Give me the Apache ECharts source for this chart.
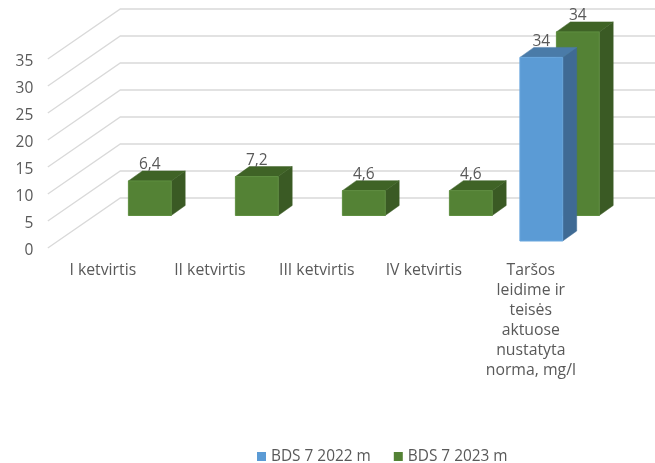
<!DOCTYPE html>
<html>
<head>
<meta charset="utf-8">
<style>html,body{margin:0;padding:0;background:#fff}#c{width:655px;height:463px}</style>
<script src="https://cdn.jsdelivr.net/npm/echarts@6/dist/echarts.min.js"></script>
</head>
<body>
<div id="c"></div>
<script>
const categories = ['I ketvirtis','II ketvirtis','III ketvirtis','IV ketvirtis','Taršos\nleidime ir\nteisės\naktuose\nnustatyta\nnorma, mg/l'];
const values2022 = [null,null,null,null,34];
const values2023 = [6.4,7.2,4.6,4.6,34];
const yTicks = [0,5,10,15,20,25,30,35];
const name2022 = 'BDS 7 2022 m';
const name2023 = 'BDS 7 2023 m';

const FONT = '"Open Sans", sans-serif';
const TXT = '#595959';
const WALL = {dx:72.5, dy:-50};
const BOX = {dx:14, dy:-10, ratio:0.4};

function barRender(off, front, top, side, edge){
  return function(params, api){
    const v = api.value(1);
    if (v == null || isNaN(v)) return null;
    const i = api.value(0);
    const b = api.coord([i,0]), t = api.coord([i,v]);
    const w = api.size([1,0])[0]*BOX.ratio;
    const x0 = b[0]-w/2+off.dx, x1 = x0+w;
    const yb = b[1]+off.dy, yt = t[1]+off.dy;
    const dx = BOX.dx, dy = BOX.dy;
    const poly = (pts,fill)=>({type:'polygon',shape:{points:pts},style:{fill:fill,stroke:fill,lineWidth:0.5},silent:true});
    return {type:'group',children:[
      poly([[x1,yb],[x1+dx,yb+dy],[x1+dx,yt+dy],[x1,yt]],side),
      poly([[x0,yt],[x1,yt],[x1+dx,yt+dy],[x0+dx,yt+dy]],top),
      {type:'rect',shape:{x:x0,y:yt,width:w,height:yb-yt},style:{fill:front,stroke:edge,lineWidth:1}},
      {type:'text',x:(x0+x1)/2,y:yt-16,style:{text:String(v).replace('.',','),fill:TXT,font:'15.5px '+FONT,align:'center',verticalAlign:'middle'}}
    ]};
  };
}

const option = {
  animation:false,
  backgroundColor:'#fff',
  grid:{left:49.3,top:59,width:535,height:189,containLabel:false},
  legend:{
    data:[name2022,name2023],left:252,top:444,itemWidth:9,itemHeight:9,itemGap:23,
    icon:'rect',
    textStyle:{color:TXT,fontFamily:FONT,fontSize:15.4}
  },
  xAxis:{
    type:'category',data:categories,
    axisLine:{show:false},axisTick:{show:false},
    axisLabel:{color:TXT,fontFamily:FONT,fontSize:15.8,lineHeight:20,margin:12,interval:0,align:'center'}
  },
  yAxis:{
    type:'value',min:0,max:35,interval:5,
    axisLine:{show:false},axisTick:{show:false},splitLine:{show:false},
    axisLabel:{color:TXT,fontFamily:FONT,fontSize:15.5,margin:16,verticalAlign:'top',lineHeight:6}
  },
  series:[
    {
      type:'custom',name:'grid',silent:true,z:1,
      data:yTicks.map(v=>[0,v]),
      encode:{x:0,y:1},
      renderItem(params,api){
        const y = api.coord([0,api.value(1)])[1];
        const cs = params.coordSys;
        return {type:'polyline',shape:{points:[[cs.x-1.5,y],[cs.x+WALL.dx-1.5,y+WALL.dy],[cs.x+cs.width+WALL.dx,y+WALL.dy]]},
          style:{fill:'none',stroke:'#d9d9d9',lineWidth:1.3}};
      }
    },
    {
      type:'custom',name:name2023,z:2,
      itemStyle:{color:'#548235'},
      data:values2023.map((v,i)=>[i,v]),
      encode:{x:0,y:1},
      renderItem:barRender({dx:47,dy:-32.5},'#548235','#3f6326','#3a5a24','#5f8f40')
    },
    {
      type:'custom',name:name2022,z:3,
      itemStyle:{color:'#5b9bd5'},
      data:values2022.map((v,i)=>[i,v]),
      encode:{x:0,y:1},
      renderItem:barRender({dx:10.5,dy:-7},'#5b9bd5','#4a7ba8','#3f6a94','#6aa7de')
    }
  ]
};
echarts.init(document.getElementById('c'),null,{renderer:'canvas'}).setOption(option);
</script>
</body>
</html>
